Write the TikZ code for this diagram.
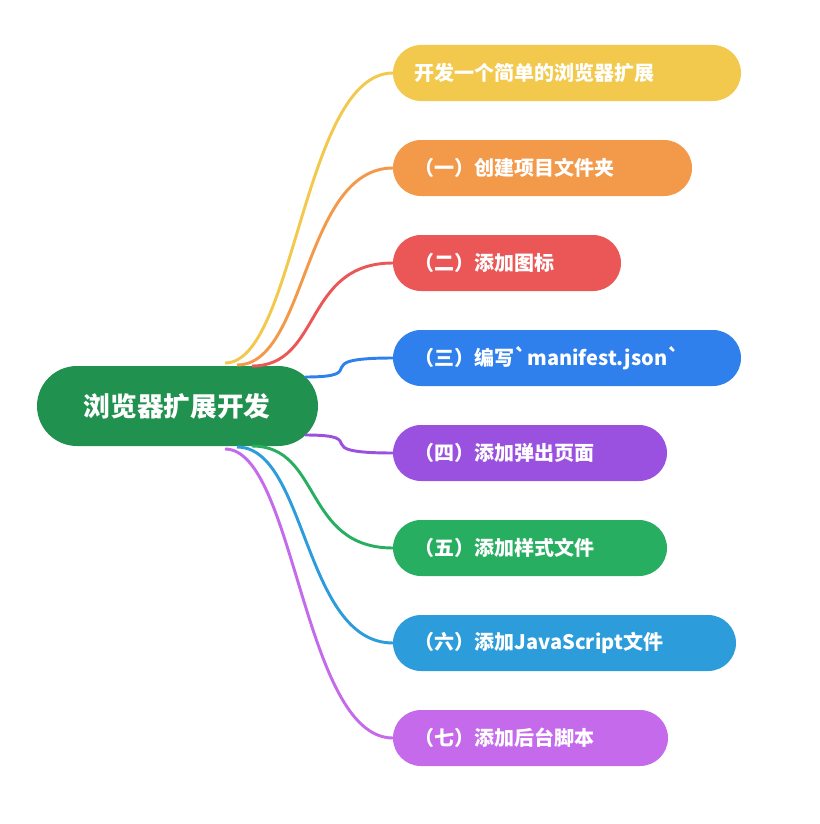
\documentclass[tikz,border=0pt]{standalone}
\usepackage{fontspec}
\newfontfamily\cjk{Noto Sans CJK SC}
\usetikzlibrary{calc}
\definecolor{cRoot}{HTML}{219150}
\definecolor{cYel}{HTML}{F2C94C}
\definecolor{cOra}{HTML}{F2994A}
\definecolor{cRed}{HTML}{EB5757}
\definecolor{cBlu}{HTML}{2F80ED}
\definecolor{cPur}{HTML}{9B51E0}
\definecolor{cGrn}{HTML}{27AE60}
\definecolor{cCya}{HTML}{2D9CDB}
\definecolor{cVio}{HTML}{C56AEB}
\begin{document}
\begin{tikzpicture}[x=0.75pt, y=-0.75pt,
    topic/.style={fill=#1, rounded corners=28*0.75pt, inner sep=0pt},
    label/.style={anchor=west, text=white, font=\cjk\bfseries\fontsize{15}{18}\selectfont},
    branch/.style={draw=#1, line width=2.2pt}]
    \useasboundingbox (0,0) rectangle (820,824);

    % Root
    \fill[cRoot, rounded corners=40*0.75pt] (37,366) rectangle (318,446);
    \node[text=white, font=\cjk\bfseries\fontsize{20}{24}\selectfont] (root) at (177,406) {浏览器扩展开发};

    % Children
    \foreach \name/\y/\r/\col/\txt in {
        a/73/741/cYel/开发一个简单的浏览器扩展,
        b/168/692/cOra/（一）创建项目文件夹,
        c/263/621/cRed/（二）添加图标,
        d/358/741/cBlu/（三）编写`manifest.json`,
        e/453/667/cPur/（四）添加弹出页面,
        f/548/667/cGrn/（五）添加样式文件,
        g/643/736/cCya/（六）添加JavaScript文件,
        h/738/668/cVio/（七）添加后台脚本}{
        \fill[\col, rounded corners=28*0.75pt] (393,\y-28) rectangle (\r,\y+28);
        \coordinate (\name) at (393,\y);
        \node[label] (\name t) at (410,\y) {\txt};
    }

    % Branches
    \foreach \name/\dx/\dy/\col in {
        a/48/-43/cYel, b/60/-41/cOra, c/75/-40/cRed, d/128/-29/cBlu,
        e/128/29/cPur, f/75/40/cGrn, g/60/41/cCya, h/48/43/cVio}{
        \draw[branch=\col] ($(root)+(\dx,\dy)$) .. controls ($(root)+(\dx+70,\dy)$) and ($(\name)+(-90,0)$) .. (\name);
    }
\end{tikzpicture}
\end{document}
